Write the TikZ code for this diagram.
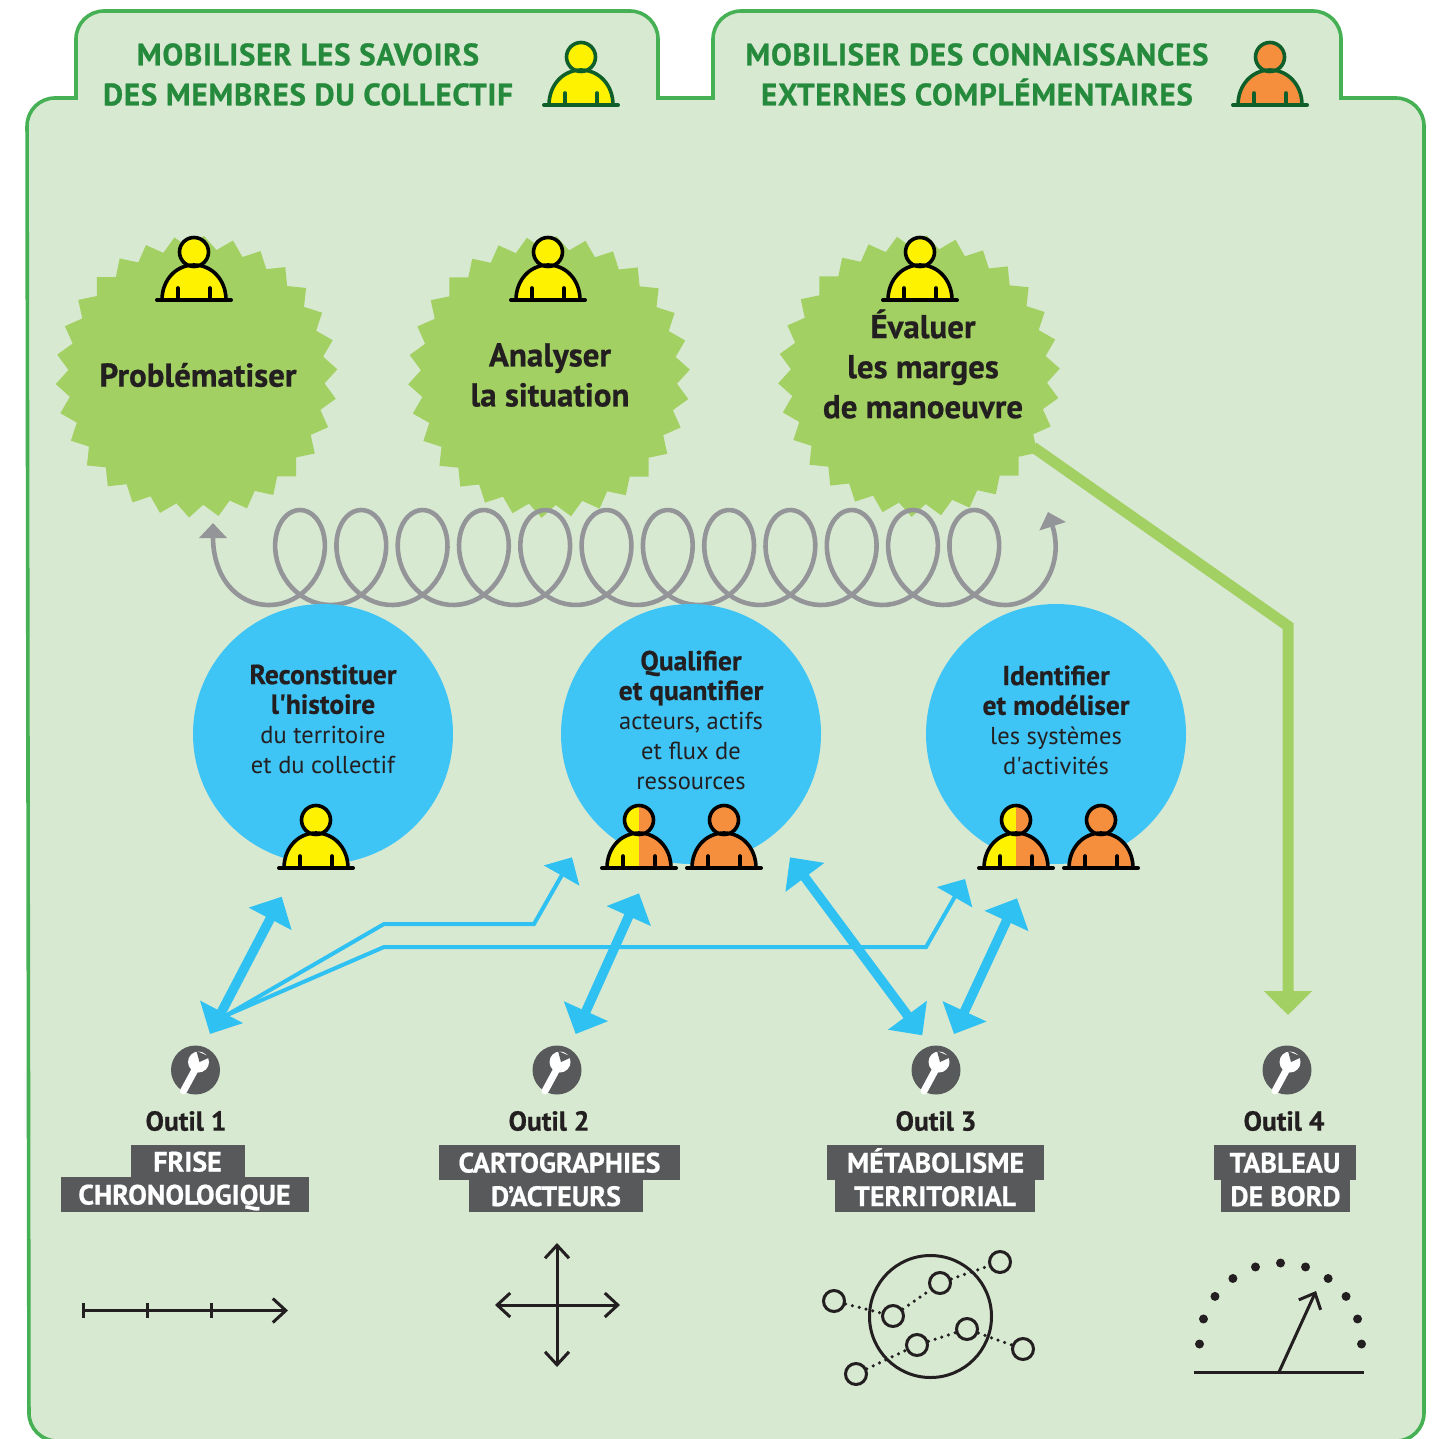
\documentclass[tikz,border=0pt]{standalone}
\usepackage{fontspec}
\setmainfont[BoldFeatures={FakeBold=0.6}]{PT Sans}
\newfontfamily\titrefont[LetterSpace=2.5,BoldFeatures={FakeBold=0.8}]{PT Sans}
\usetikzlibrary{arrows.meta,shapes.geometric}
\definecolor{fond}{HTML}{D8E9D2}
\definecolor{bord}{HTML}{46B154}
\definecolor{titre}{HTML}{268A3D}
\definecolor{sombre}{HTML}{0F5F2A}
\definecolor{herbe}{HTML}{A3D062}
\definecolor{ciel}{HTML}{3FC5F5}
\definecolor{fleche}{HTML}{2FC1F2}
\definecolor{jaune}{HTML}{FFF200}
\definecolor{orange}{HTML}{F68F3D}
\definecolor{gris}{HTML}{58595B}
\definecolor{spirale}{HTML}{949598}
\definecolor{encre}{HTML}{231F20}
\tikzset{
	etoile/.style={star,star points=30,star point ratio=1.1,minimum size=282pt,inner sep=0pt,fill=herbe,shape border rotate=-3},
	etoiletxt/.style={align=center,text=encre,font=\bfseries\fontsize{33}{40}\selectfont},
	bulle/.style={circle,minimum size=260pt,inner sep=0pt,fill=ciel},
	bulletxt/.style={align=center,text=encre,font=\fontsize{24.5}{29.7}\selectfont},
	titretxt/.style={align=center,text=titre,font=\titrefont\bfseries\fontsize{31}{40}\selectfont},
	outil/.style={circle,minimum size=49pt,inner sep=0pt,fill=gris},
	outiltxt/.style={text=encre,font=\bfseries\fontsize{27.5}{32}\selectfont},
	etiquette/.style={fill=gris,text=white,inner sep=0pt,text height=20pt,text depth=0pt,font=\bfseries\fontsize{28}{32}\selectfont},
	double/.style={line width=9.5pt,draw=fleche,{Triangle[length=25pt,width=47pt]}-{Triangle[length=25pt,width=47pt]}},
	simple/.style={line width=4pt,draw=fleche,-{Triangle[length=21pt,width=40pt]}},
	picto/.style={draw=encre,line width=3pt},
	rond/.style={circle,draw=encre,line width=3pt,minimum size=21pt,inner sep=0pt},
	pointilles/.style={draw=encre,line width=3.5pt,line cap=round,dash pattern=on 0pt off 7pt}
}
\newcommand\gras[1]{{\fontsize{27.5}{29.7}\selectfont\bfseries #1}}
\newcommand\persona[5]{%
	\begin{scope}[shift={(#1,#2)}]
		\begin{scope}
			\clip (-40,-70) rectangle (0,5);
			\fill[#3] (-32,0) .. controls (-32,-20) and (-18,-35) .. (0,-35) .. controls (18,-35) and (32,-20) .. (32,0) -- cycle;
			\fill[#3] (0,-48) circle (15);
		\end{scope}
		\begin{scope}
			\clip (0,-70) rectangle (40,5);
			\fill[#4] (-32,0) .. controls (-32,-20) and (-18,-35) .. (0,-35) .. controls (18,-35) and (32,-20) .. (32,0) -- cycle;
			\fill[#4] (0,-48) circle (15);
		\end{scope}
		\draw[#5,line width=3.6pt] (-32,0) .. controls (-32,-20) and (-18,-35) .. (0,-35) .. controls (18,-35) and (32,-20) .. (32,0);
		\draw[#5,line width=3.6pt] (0,-48) circle (14.5);
		\draw[#5,line width=3.6pt,line cap=round] (-16,0) -- (-16,-12) (16,0) -- (16,-12);
		\draw[#5,line width=4pt,line cap=round] (-37,0) -- (37,0);
	\end{scope}
}
\newcommand\clef[1]{%
	\begin{scope}[shift={(#1)}]
		\draw[white,line width=7pt,line cap=round] (-12,21) -- (1,-3);
		\fill[white] (3,-8) circle (10.5);
		\fill[gris] (4,-8) -- (1,-19) -- (15,-13) -- cycle;
	\end{scope}
}
\begin{document}
\begin{tikzpicture}[x=1pt,y=-1pt]
	\useasboundingbox (0,0) rectangle (1439,1439);
	\draw[fill=fond,draw=bord,line width=3.6pt] (700,1441) [rounded corners=28pt] -- (29,1441) -- (27,98) [sharp corners] -- (76,98) [rounded corners=28pt] -- (76,11) -- (658,11) [sharp corners] -- (658,98) -- (713,98) [rounded corners=28pt] -- (713,11) -- (1341,11) [sharp corners] -- (1341,98) [rounded corners=28pt] -- (1424,98) -- (1424,1441) -- (710,1441);
	
	\node[titretxt] (savoirs) at (308,74.5) {MOBILISER LES SAVOIRS\\DES MEMBRES DU COLLECTIF};
	\node[titretxt] (connaissances) at (977,74.5) {MOBILISER DES CONNAISSANCES\\EXTERNES COMPLÉMENTAIRES};
	\persona{581}{105}{jaune}{jaune}{sombre}
	\persona{1270}{105}{orange}{orange}{sombre}
	
	\coordinate (margefin) at (1033,447);
	\coordinate (tableaufin) at (1288,1015);
	\draw[herbe,line width=11pt,-{Triangle[length=24pt,width=47pt]}] (margefin) -- (1288,626) -- (tableaufin);
	
	\node[etoile] (problematiser) at (196.5,376.7) {};
	\node[etoile] (analyser) at (549,377) {};
	\node[etoile] (evaluer) at (919,376) {};
	\persona{194}{300}{jaune}{jaune}{black}
	\persona{548}{300}{jaune}{jaune}{black}
	\persona{920}{300}{jaune}{jaune}{black}
	\node[etoiletxt] (problematisertxt) at (198,375) {Problématiser};
	\node[etoiletxt] (analysertxt) at (550,375) {Analyser\\la situation};
	\node[etoiletxt] (evaluertxt) at (923,364) {Évaluer\\les marges\\de manoeuvre};
	
	\coordinate (spiraledebut) at (213,523);
	\coordinate (spiralefin) at (1048,512);
	\draw[spirale,line width=4.6pt,{Triangle[length=15pt,width=27pt]}-{Triangle[length=15pt,width=27pt]}] (spiraledebut) .. controls (213,575) and (235,605) .. (269.35,605) -- plot[domain=-180:4140,samples=600] ({300+\x*0.17028-39*sin(\x)},{557.5-47.5*cos(\x)}) .. controls (1040,605) and (1065,565) .. (spiralefin);
	
	\node[bulle] (histoire) at (323,734) {};
	\node[bulle] (acteurs) at (691,734) {};
	\node[bulle] (systemes) at (1056,734) {};
	\node[bulletxt] (histoiretxt) at (323,719) {\gras{Reconstituer}\\\gras{l\textquotesingle histoire}\\du territoire\\et du collectif};
	\node[bulletxt] (acteurstxt) at (691,720) {\gras{Qualifier}\\\gras{et quantifier}\\acteurs, actifs\\et flux de\\ressources};
	\node[bulletxt] (systemestxt) at (1056,720) {\gras{Identifier}\\\gras{et modéliser}\\les systèmes\\d\textquotesingle activités};
	\persona{316}{868}{jaune}{jaune}{black}
	\persona{639}{868}{jaune}{orange}{black}
	\persona{724}{868}{orange}{orange}{black}
	\persona{1016}{868}{jaune}{orange}{black}
	\persona{1101}{868}{orange}{orange}{black}
	
	\node[outil] (outila) at (195.5,1070) {};
	\node[outil] (outilb) at (557,1070) {};
	\node[outil] (outilc) at (936,1070) {};
	\node[outil] (outild) at (1287,1070) {};
	\clef{outila}
	\clef{outilb}
	\clef{outilc}
	\clef{outild}
	
	\coordinate (basa) at (210,1034);
	\coordinate (basb) at (575.7,1034);
	\coordinate (basc) at (922.3,1035.3);
	\coordinate (basd) at (954,1034);
	\coordinate (hauta) at (281.7,896.7);
	\coordinate (hautb) at (639,893.3);
	\coordinate (hautc) at (790,857.3);
	\coordinate (hautd) at (1017,898.3);
	\coordinate (hautq) at (572,857.3);
	\coordinate (hauti) at (965,879);
	\coordinate (jonction) at (226,1015.5);
	\draw[simple] (jonction) -- (384,924) -- (534,924) -- (hautq);
	\draw[simple] (jonction) -- (384,947) -- (926,947) -- (hauti);
	\draw[double] (basa) -- (hauta);
	\draw[double] (basb) -- (hautb);
	\draw[double] (hautc) -- (basc);
	\draw[double] (basd) -- (hautd);
	
	\node[outiltxt] (outilatxt) at (186,1121) {Outil 1};
	\node[outiltxt] (outilbtxt) at (549,1121) {Outil 2};
	\node[outiltxt] (outilctxt) at (936,1121) {Outil 3};
	\node[outiltxt] (outildtxt) at (1284,1121) {Outil 4};
	
	\node[etiquette,minimum width=114pt,minimum height=33pt] (frise) at (187.5,1161.5) {FRISE};
	\node[etiquette,minimum width=248pt,minimum height=35pt] (chrono) at (184.5,1194.5) {CHRONOLOGIQUE};
	\node[etiquette,minimum width=241pt,minimum height=35pt] (carto) at (559.5,1162.5) {CARTOGRAPHIES};
	\node[etiquette,minimum width=174pt,minimum height=32pt] (dacteurs) at (556,1196) {D’ACTEURS};
	\node[etiquette,minimum width=217pt,minimum height=35pt] (metabo) at (935.5,1162.5) {MÉTABOLISME};
	\node[etiquette,minimum width=200pt,minimum height=32pt] (territorial) at (935,1196) {TERRITORIAL};
	\node[etiquette,minimum width=142pt,minimum height=35pt] (tableau) at (1285,1162.5) {TABLEAU};
	\node[etiquette,minimum width=129pt,minimum height=32pt] (debord) at (1285.5,1196) {DE BORD};
	
	\draw[picto,-{Straight Barb[length=13pt,width=24pt]}] (83,1310.5) -- (288,1310.5);
	\foreach \i in {83,147,211}{
		\draw[picto] (\i,1303) -- (\i,1318);
	}
	
	\draw[picto,{Straight Barb[length=13pt,width=24pt]}-{Straight Barb[length=13pt,width=24pt]}] (495,1305) -- (620,1305);
	\draw[picto,{Straight Barb[length=13pt,width=24pt]}-{Straight Barb[length=13pt,width=24pt]}] (557,1243) -- (557,1367);
	
	\draw[picto] (930.5,1316.5) circle (61);
	\node[rond] (ronda) at (834,1301) {};
	\node[rond] (rondb) at (893,1316) {};
	\node[rond] (rondc) at (940,1283) {};
	\node[rond] (rondd) at (1000,1262) {};
	\node[rond] (ronde) at (967,1329) {};
	\node[rond] (rondf) at (917,1345) {};
	\node[rond] (rondg) at (1023,1349) {};
	\node[rond] (rondh) at (856,1374) {};
	\draw[pointilles] (ronda) -- (rondb);
	\draw[pointilles] (rondb) -- (rondc);
	\draw[pointilles] (rondc) -- (rondd);
	\draw[pointilles] (rondh) -- (rondf);
	\draw[pointilles] (rondf) -- (ronde);
	\draw[pointilles] (ronde) -- (rondg);
	
	\foreach \a in {0,18,...,180}{
		\fill[encre] (1280.5,1344) ++(\a:81 and -81) circle (4.5);
	}
	\coordinate (cadranbase) at (1279,1372);
	\coordinate (cadranpointe) at (1316,1291);
	\draw[picto] (1194,1372) -- (1364,1372);
	\draw[picto,-{Straight Barb[length=13pt,width=24pt]}] (cadranbase) -- (cadranpointe);
\end{tikzpicture}
\end{document}
